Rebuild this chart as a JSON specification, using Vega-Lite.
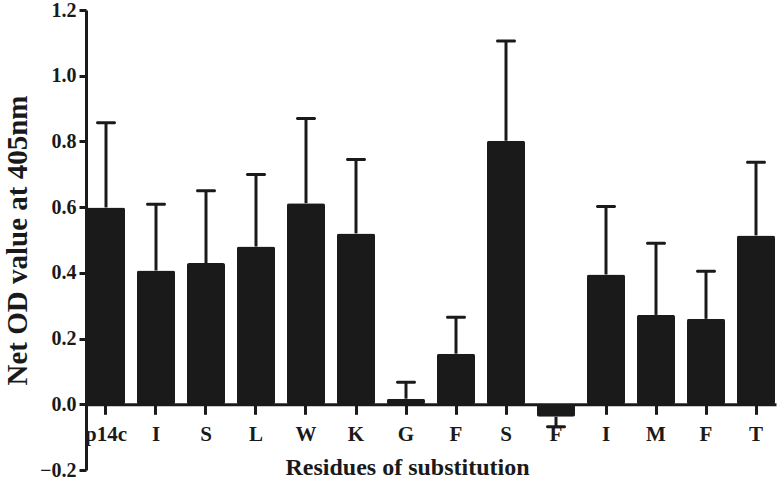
{
  "$schema": "https://vega.github.io/schema/vega-lite/v6.json",
  "autosize": "none",
  "width": 690,
  "height": 460,
  "padding": {"left": 86, "top": 10, "right": 4, "bottom": 10},
  "background": "white",
  "config": {
    "view": {"stroke": null},
    "font": "Liberation Serif"
  },
  "data": {
    "values": [
      {"res": "p14c", "od": 0.599, "err": 0.857},
      {"res": "I_1", "od": 0.407, "err": 0.609},
      {"res": "S_1", "od": 0.430, "err": 0.650},
      {"res": "L", "od": 0.480, "err": 0.699},
      {"res": "W", "od": 0.612, "err": 0.870},
      {"res": "K", "od": 0.520, "err": 0.745},
      {"res": "G", "od": 0.017, "err": 0.067},
      {"res": "F_1", "od": 0.154, "err": 0.265},
      {"res": "S_2", "od": 0.802, "err": 1.106},
      {"res": "F_2", "od": -0.038, "err": -0.068},
      {"res": "I_2", "od": 0.395, "err": 0.602},
      {"res": "M", "od": 0.272, "err": 0.490},
      {"res": "F_3", "od": 0.260, "err": 0.405},
      {"res": "T", "od": 0.514, "err": 0.737}
    ]
  },
  "encoding": {
    "x": {
      "field": "res",
      "type": "nominal",
      "sort": null,
      "scale": {"paddingInner": 0.24, "paddingOuter": 0.02},
      "axis": {
        "title": "Residues of substitution",
        "labelExpr": "split(datum.value, '_')[0]",
        "labelAngle": 0,
        "labelFont": "Liberation Serif",
        "labelFontWeight": "bold",
        "labelFontSize": 21,
        "labelColor": "#1a1a1a",
        "labelPadding": 9,
        "titleFont": "Liberation Serif",
        "titleFontWeight": "bold",
        "titleFontSize": 24,
        "titleColor": "#1a1a1a",
        "titleX": 321,
        "titleY": 70,
        "titleBaseline": "alphabetic",
        "offset": -65.7,
        "domainColor": "#1a1a1a",
        "domainWidth": 3,
        "tickColor": "#1a1a1a",
        "tickWidth": 3,
        "tickSize": 10,
        "grid": false
      }
    }
  },
  "layer": [
    {
      "mark": {"type": "bar", "color": "#1a1a1a", "cornerRadius": 2},
      "encoding": {
        "y": {
          "field": "od",
          "type": "quantitative",
          "scale": {"domain": [-0.2, 1.2], "nice": false, "zero": false},
          "axis": {
            "title": "Net OD value at 405nm",
            "values": [-0.2, 0, 0.2, 0.4, 0.6, 0.8, 1.0, 1.2],
            "format": ".1f",
            "labelFont": "Liberation Serif",
            "labelFontWeight": "bold",
            "labelFontSize": 20,
            "labelColor": "#1a1a1a",
            "labelPadding": 3,
            "titleFont": "Liberation Serif",
            "titleFontWeight": "bold",
            "titleFontSize": 29,
            "titleColor": "#1a1a1a",
            "titlePadding": 7,
            "domainColor": "#1a1a1a",
            "domainWidth": 3,
            "tickColor": "#1a1a1a",
            "tickWidth": 3,
            "tickSize": 7,
            "grid": false
          }
        }
      }
    },
    {
      "mark": {"type": "rule", "color": "#1a1a1a", "strokeWidth": 3},
      "encoding": {
        "y": {"field": "od", "type": "quantitative"},
        "y2": {"field": "err"}
      }
    },
    {
      "mark": {"type": "tick", "color": "#1a1a1a", "thickness": 3, "size": 20, "cornerRadius": 1.5, "opacity": 1},
      "encoding": {
        "y": {"field": "err", "type": "quantitative"}
      }
    }
  ]
}
